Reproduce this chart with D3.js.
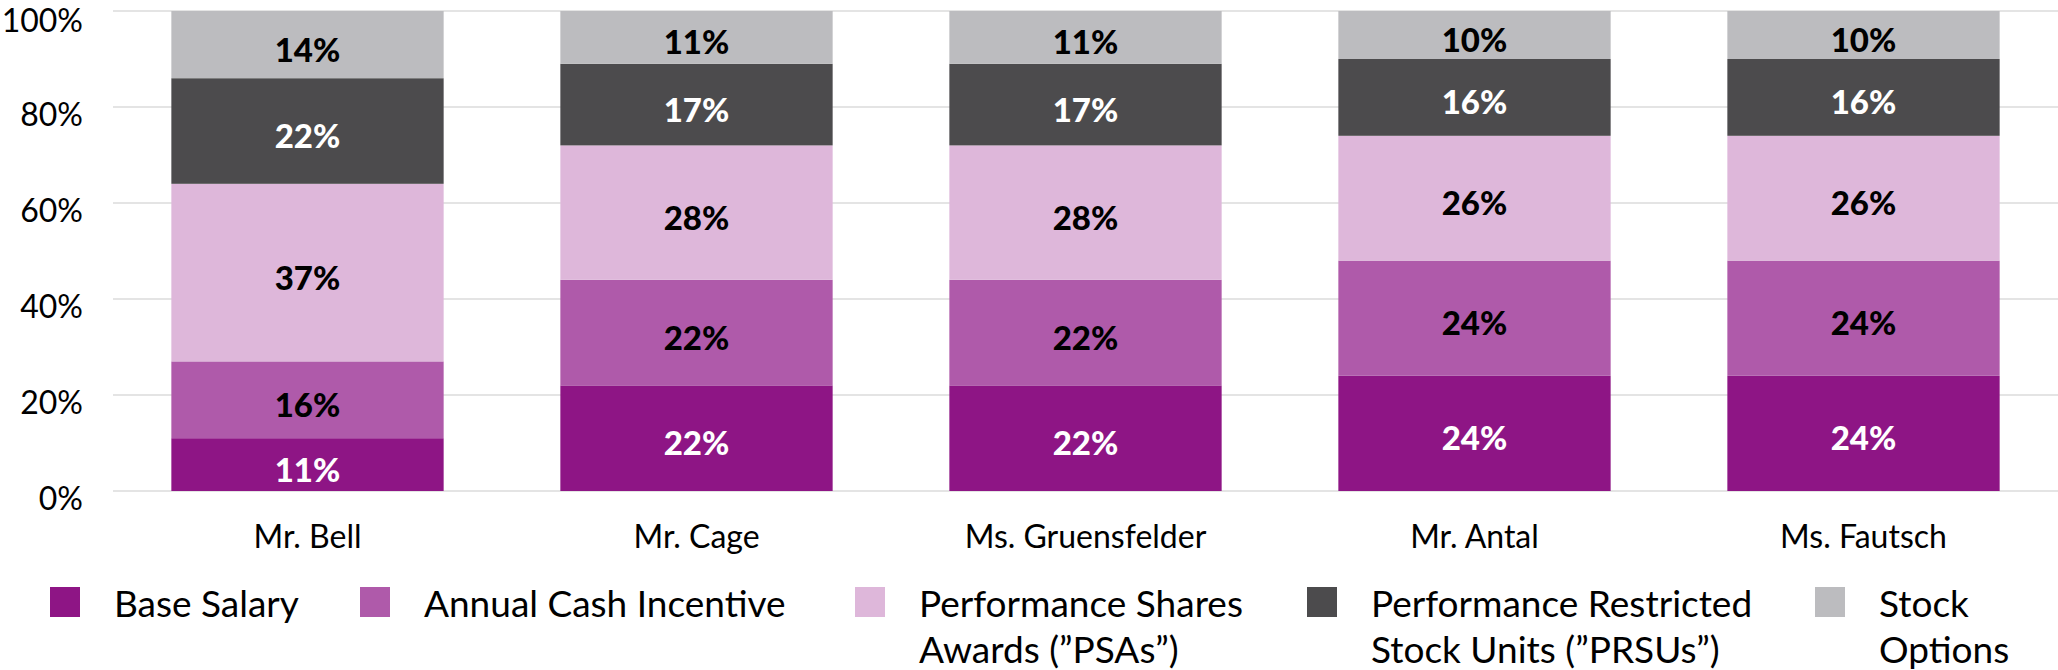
<!DOCTYPE html>
<html lang="en">
<head>
  <meta charset="UTF-8">
  <title>Pay mix</title>
  <script src="https://cdn.jsdelivr.net/npm/d3@7.9.0/dist/d3.min.js"></script>
  <style>
    html, body { margin: 0; padding: 0; background: #fff; }
    svg { display: block; font-family: Lato, "Open Sans", sans-serif; }
  </style>
</head>
<body>
  <svg id="chart" width="2058" height="670"></svg>
  <script>
    // data
    const executives = ["Mr. Bell", "Mr. Cage", "Ms. Gruensfelder", "Mr. Antal", "Ms. Fautsch"];
    const seriesNames = ["Base Salary", "Annual Cash Incentive", "Performance Shares Awards (\u201DPSAs\u201D)",
      "Performance Restricted Stock Units (\u201DPRSUs\u201D)", "Stock Options"];
    const legendLines = [
      ["Base Salary"],
      ["Annual Cash Incentive"],
      ["Performance Shares", "Awards (\u201DPSAs\u201D)"],
      ["Performance Restricted", "Stock Units (\u201DPRSUs\u201D)"],
      ["Stock", "Options"]
    ];
    const baseSalary = [11, 22, 22, 24, 24];
    const annualCash = [16, 22, 22, 24, 24];
    const psas = [37, 28, 28, 26, 26];
    const prsus = [22, 17, 17, 16, 16];
    const stockOptions = [14, 11, 11, 10, 10];
    const yTicks = [0, 20, 40, 60, 80, 100];

    const colors = ["#8e1585", "#af5aaa", "#deb7da", "#4c4b4d", "#bcbcbf"];
    const labelColors = ["#fff", "#000", "#000", "#fff", "#000"];

    const svg = d3.select("#chart");
    const margin = { left: 113, right: 0, top: 11, bottom: 179 };
    const W = 2058, H = 670;

    const x = d3.scaleBand()
      .domain(executives)
      .range([margin.left, W - margin.right])
      .paddingInner(0.3)
      .paddingOuter(0.15);

    const y = d3.scaleLinear()
      .domain([0, 100])
      .range([H - margin.bottom, margin.top]);

    // gridlines
    svg.append("g")
      .selectAll("line")
      .data(yTicks)
      .join("line")
      .attr("x1", margin.left)
      .attr("x2", W)
      .attr("y1", d => y(d))
      .attr("y2", d => y(d))
      .attr("stroke", "#e4e4e4")
      .attr("stroke-width", 2);

    // y tick labels (top one clamped so it stays inside the frame)
    svg.append("g")
      .selectAll("text")
      .data(yTicks)
      .join("text")
      .attr("x", 83)
      .attr("y", d => Math.max(y(d) + 19, 32))
      .attr("text-anchor", "end")
      .attr("font-size", 32)
      .attr("fill", "#000")
      .text(d => d + "%");

    // stack
    const rows = executives.map((name, i) => ({
      name,
      s0: baseSalary[i], s1: annualCash[i], s2: psas[i], s3: prsus[i], s4: stockOptions[i]
    }));
    const keys = ["s0", "s1", "s2", "s3", "s4"];
    const stacked = d3.stack().keys(keys)(rows);

    const layers = svg.append("g")
      .selectAll("g")
      .data(stacked)
      .join("g")
      .attr("fill", (d, i) => colors[i]);

    layers.selectAll("rect")
      .data(d => d)
      .join("rect")
      .attr("x", d => x(d.data.name))
      .attr("width", x.bandwidth())
      .attr("y", d => y(d[1]))
      .attr("height", d => y(d[0]) - y(d[1]));

    layers.each(function (layer, i) {
      d3.select(this).selectAll("text")
        .data(layer)
        .join("text")
        .attr("x", d => x(d.data.name) + x.bandwidth() / 2)
        .attr("y", d => (y(d[0]) + y(d[1])) / 2 + 4)
        .attr("text-anchor", "middle")
        .attr("dominant-baseline", "central")
        .attr("font-size", 33)
        .attr("font-weight", 900)
        .attr("fill", labelColors[i])
        .text(d => (d[1] - d[0]) + "%");
    });

    // category labels
    svg.append("g")
      .selectAll("text")
      .data(executives)
      .join("text")
      .attr("x", d => x(d) + x.bandwidth() / 2)
      .attr("y", 535)
      .attr("text-anchor", "middle")
      .attr("dominant-baseline", "central")
      .attr("font-size", 32)
      .attr("fill", "#000")
      .text(d => d);

    // legend
    const legendSquareX = [50, 360, 855, 1307, 1815];
    const legend = svg.append("g")
      .selectAll("g")
      .data(seriesNames)
      .join("g")
      .attr("transform", (d, i) => `translate(${legendSquareX[i]},587)`);

    legend.append("rect")
      .attr("width", 30)
      .attr("height", 30)
      .attr("fill", (d, i) => colors[i]);

    legend.append("text")
      .attr("font-size", 37)
      .attr("fill", "#000")
      .selectAll("tspan")
      .data((d, i) => legendLines[i])
      .join("tspan")
      .attr("x", 64)
      .attr("y", (d, j) => 15 + j * 46)
      .attr("dominant-baseline", "central")
      .text(d => d);
  </script>
</body>
</html>
